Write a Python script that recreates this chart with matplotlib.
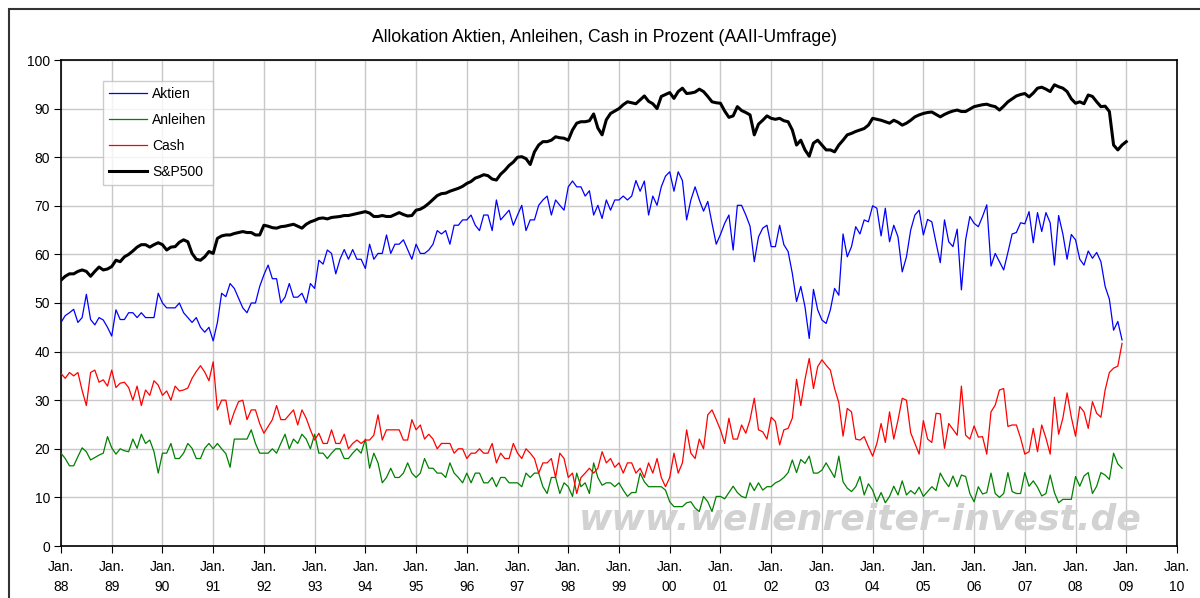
import numpy as np
import matplotlib.pyplot as plt
from matplotlib.patches import Rectangle

plt.rcParams['font.family'] = ['Liberation Sans', 'DejaVu Sans']

# Monatswerte Jan. 88 - Dez. 08 (AAII-Umfrage, Allokation in Prozent)
aktien = [
    46, 47.4, 48, 48.7, 46, 47, 51.8, 46.6, 45.5, 47, 46.5, 45,            # 1988
    43.2, 48.6, 46.6, 46.6, 48, 48, 47, 48, 47, 47, 47, 52,                # 1989
    50, 49, 49, 49, 50, 48, 47, 46, 47, 45, 44, 45,                        # 1990
    42.2, 46, 52, 51.3, 54, 53, 51, 49, 48, 50, 50, 53.4,                  # 1991
    55.8, 57.8, 55, 55, 50, 51.2, 54, 51.2, 51.2, 52, 50, 54,              # 1992
    53, 58.8, 58, 60.9, 60.2, 56, 59, 61, 59, 61, 59, 59,                  # 1993
    57.1, 62.1, 59, 60.2, 60.2, 64, 60.2, 62.1, 62.1, 63, 61, 59,          # 1994
    62.1, 60.2, 60.2, 60.9, 62.1, 64.9, 64.2, 64.9, 62.1, 66, 66, 67.1,    # 1995
    67.1, 68.1, 66, 64.9, 68.1, 68.1, 64.9, 71.2, 67.1, 68.1, 69.1, 66,    # 1996
    68.1, 70.1, 64.9, 67.1, 67.1, 70.1, 71.2, 72, 68.1, 71.2, 70.1, 69.1,  # 1997
    73.9, 75.1, 73.9, 73.9, 72, 73.1, 68.1, 70.1, 67.4, 71.2, 69.1, 71.2,  # 1998
    71.2, 72, 71.2, 72, 75.2, 73, 75.1, 68.1, 72, 70.1, 73.9, 76.1,        # 1999
    77, 73, 77, 75.2, 67.1, 71.2, 73.9, 71.2, 68.9, 70.9, 66.4, 62.1,      # 2000
    64.1, 66.4, 68.1, 60.9, 70.1, 70.1, 68.1, 65.8, 58.5, 63.6, 65.4, 66,  # 2001
    61.6, 61.6, 66, 62, 60.6, 56.1, 50.3, 53.4, 49.2, 42.7, 52.8, 48.6,    # 2002
    46.5, 45.8, 48.6, 53, 51.6, 64.2, 59.5, 61.6, 65.7, 64.2, 67.1, 66.7,  # 2003
    70, 69.5, 63.8, 69.5, 62.6, 66, 63.6, 56.4, 59.5, 65, 68.1, 69.1,      # 2004
    64, 67.2, 66.7, 62.4, 58.3, 67.1, 62.6, 61.6, 65.2, 52.7, 63, 67.8,    # 2005
    66.4, 65.7, 67.8, 70.2, 57.6, 60.2, 58.5, 56.8, 60.4, 64.2, 64.5, 66.5,  # 2006
    66.3, 68.8, 62.4, 68.6, 64.7, 68.6, 66.5, 57.8, 68, 64.2, 59, 64.1,    # 2007
    63, 59, 57.8, 60.7, 59.2, 60.4, 58.5, 53.4, 50.8, 44.4, 46.2, 42.4,    # 2008
]

anleihen = [
    19.1, 18, 16.5, 16.5, 18.4, 20.2, 19.4, 17.7, 18.2, 18.7, 19.1, 22.5,  # 1988
    20.2, 18.9, 20, 19.6, 19.4, 22, 20.1, 23, 21.1, 21.8, 19.4, 15,        # 1989
    19.1, 19.1, 21.1, 18, 18, 19.1, 21.1, 20.1, 18, 18, 20.1, 21.1,        # 1990
    20, 21.1, 20, 19, 16.2, 22, 22, 22, 22, 23.9, 21.1, 19.1,              # 1991
    19.1, 19.1, 20, 19.1, 21.1, 23, 20, 22, 21.1, 23, 22, 20,              # 1992
    23, 19.1, 19.1, 18, 19.1, 20, 20, 18, 18, 19.1, 20, 19.1,              # 1993
    22, 16, 19.1, 17.1, 13, 14.1, 16, 14.1, 14.1, 15, 17.1, 15,            # 1994
    14.1, 15, 18, 16, 16, 15, 15, 14.1, 17.1, 15, 14.1, 13,                # 1995
    15, 13, 15, 15, 13, 13, 14.1, 12.2, 14.1, 14.1, 13, 13,                # 1996
    13, 12.2, 15, 14.1, 15, 15, 12.2, 10.8, 14.1, 14.1, 10.8, 13,          # 1997
    12.2, 10.2, 15, 12.2, 13, 10.8, 17.1, 14.1, 12.5, 13, 13, 12.2,        # 1998
    13, 11.5, 10.2, 11, 11, 15, 13.2, 12.2, 12.2, 12.2, 12.2, 11.5,        # 1999
    9.1, 8.1, 8.1, 8.1, 8.9, 9.1, 7.8, 7.1, 10.2, 9.1, 7.1, 10.2,          # 2000
    10.2, 9.7, 11, 12.3, 11, 10.2, 9.9, 13, 11.4, 13, 11.5, 12.2,          # 2001
    12.2, 13, 13.4, 14.1, 15.1, 17.7, 15.1, 17.8, 17, 18.5, 15, 15,        # 2002
    15.6, 17.1, 15.6, 14.1, 18.5, 13.2, 11.9, 11.2, 12.2, 14.3, 10.5, 12.8,  # 2003
    11.5, 9.1, 11, 8.9, 10.2, 12.3, 10.5, 13.4, 10.5, 11.4, 10.7, 12.1,    # 2004
    10.2, 11.2, 12.2, 11.4, 15, 13.4, 12.2, 14.4, 12.2, 14.6, 14.3, 10.8,  # 2005
    9.1, 12.2, 10.7, 11, 15, 10.8, 10, 10.8, 15.1, 11.2, 10.8, 10.8,       # 2006
    15.1, 12.3, 13.4, 12.1, 10.3, 10.8, 14.6, 11, 8.9, 9.6, 9.6, 9.6,      # 2007
    14.3, 12.3, 14.4, 15.1, 10.8, 12.3, 15.1, 14.6, 13.7, 19.1, 16.9, 16,  # 2008
]

cash = [
    35.5, 34.5, 35.7, 35, 35.7, 32, 28.9, 35.7, 36.2, 33.7, 34.2, 32.9,    # 1988
    36.2, 32.6, 33.5, 33.7, 32.6, 30, 32.9, 28.9, 32.1, 31, 34, 33.1,      # 1989
    31, 31.9, 30, 32.9, 31.9, 32.1, 32.5, 34.5, 35.9, 37.1, 35.8, 34,      # 1990
    37.9, 28, 30, 30, 25, 27.6, 29.7, 30, 26, 28, 28, 25.2,                # 1991
    23.2, 24.6, 26, 28.9, 26, 26, 27, 28, 24.9, 28, 26.3, 23.9,            # 1992
    21.8, 23.2, 21.1, 21.1, 23.9, 21.1, 21.1, 23, 20, 21.1, 21.8, 21.1,    # 1993
    21.8, 21.8, 22.8, 27, 21.8, 23.9, 23.9, 23.9, 23.9, 21.8, 21.8, 26,    # 1994
    23.9, 24.9, 22, 23, 22, 20, 21.1, 21.1, 21.1, 19.1, 20, 20,            # 1995
    18, 19.1, 19.1, 20, 19.1, 19.1, 21.1, 17.1, 19.1, 18, 18, 21.1,        # 1996
    19.1, 18, 20, 19.1, 18, 15, 17.1, 17.1, 18, 14.1, 19.1, 18,            # 1997
    14.1, 15, 10.8, 14.1, 15, 16, 15, 16, 19.4, 17.1, 18, 16.2,            # 1998
    17.1, 15, 17.1, 17.1, 15, 16, 14.1, 17.1, 15, 18, 14.1, 12.2,          # 1999
    14.1, 19.1, 15, 17.1, 23.9, 19.1, 18, 22, 20, 27, 28, 26,              # 2000
    23.9, 21.1, 26.3, 22, 22, 24.9, 23.2, 26, 30.4, 23.9, 23.5, 22,        # 2001
    26.5, 25.6, 20.8, 23.9, 24.2, 26.3, 34.3, 28.9, 34.3, 38.6, 32.4, 36.9,  # 2002
    38.3, 37.2, 36.2, 32.4, 29.5, 22.6, 28.3, 27.6, 22, 21.8, 22.5, 20.4,  # 2003
    18.5, 21.1, 25.2, 21.3, 27.6, 22, 25.9, 30.4, 30, 23.3, 21.1, 18.9,    # 2004
    25.8, 22, 21.3, 27.3, 27.2, 20.1, 25.2, 24, 22.8, 32.9, 22.8, 22,      # 2005
    24.7, 22.4, 22.5, 18.9, 27.6, 29, 32.1, 32.4, 24.6, 24.9, 24.9, 22.2,  # 2006
    18.9, 19.4, 24.2, 19.4, 24.9, 22.2, 18.9, 30.6, 23, 26.3, 31.5, 26.5,  # 2007
    22.6, 28.7, 27.6, 24.2, 29.7, 27.3, 26.5, 32.1, 35.7, 36.6, 37, 41.7,  # 2008
]

# S&P500 (skaliert), Monatswerte Jan. 88 - Jan. 09
spx = [
    54.7, 55.5, 56, 56, 56.5, 56.8, 56.5, 55.5, 56.5, 57.4, 56.8, 57,      # 1988
    57.5, 58.8, 58.5, 59.5, 60, 60.7, 61.5, 62, 62, 61.5, 62, 62.4,        # 1989
    62, 60.9, 61.5, 61.6, 62.5, 63, 62.6, 60.2, 59, 58.8, 59.5, 60.6,      # 1990
    60.2, 63.3, 63.8, 64, 64, 64.3, 64.5, 64.7, 64.5, 64.5, 64, 64,        # 1991
    66, 65.8, 65.5, 65.4, 65.7, 65.8, 66, 66.2, 65.8, 65.4, 66.2, 66.7,    # 1992
    67, 67.4, 67.5, 67.3, 67.6, 67.7, 67.8, 68, 68, 68.2, 68.4, 68.6,      # 1993
    68.8, 68.5, 67.8, 67.8, 68, 67.8, 67.8, 68.2, 68.6, 68.2, 67.9, 68,    # 1994
    69.1, 69.3, 69.8, 70.5, 71.3, 72.1, 72.5, 72.6, 73, 73.3, 73.6, 74,    # 1995
    74.6, 75, 75.7, 76, 76.4, 76.2, 75.5, 75.3, 76.5, 77.3, 78.3, 79,      # 1996
    80, 80.1, 79.7, 78.5, 81.1, 82.5, 83.2, 83.2, 83.5, 84.2, 84, 83.9,    # 1997
    83.5, 85.6, 87, 87.3, 87.3, 87.5, 88.9, 86, 84.6, 87.7, 89, 89.5,      # 1998
    90, 90.8, 91.4, 91.2, 91, 91.8, 92.6, 91.5, 91, 90, 92.5, 92.9,        # 1999
    93.3, 92.1, 93.5, 94.2, 93.1, 93.2, 93.4, 94, 93.5, 92.5, 91.4, 91.2,  # 2000
    91.1, 89.5, 88.2, 88.5, 90.4, 89.6, 89.2, 88.7, 84.6, 86.8, 87.6, 88.5,  # 2001
    88, 87.8, 88, 87.5, 87.3, 85.6, 82.5, 83.5, 81.5, 80.2, 82.9, 83.5,    # 2002
    82.5, 81.5, 81.5, 81.1, 82.5, 83.5, 84.6, 84.9, 85.3, 85.6, 85.9, 86.6,  # 2003
    88, 87.8, 87.6, 87.3, 87, 87.6, 87.2, 86.6, 87, 87.6, 88.3, 88.7,      # 2004
    89, 89.2, 89.3, 88.8, 88.3, 88.8, 89.2, 89.5, 89.7, 89.4, 89.4, 89.9,  # 2005
    90.4, 90.6, 90.8, 90.9, 90.6, 90.4, 89.7, 90.5, 91.4, 92, 92.6, 92.9,  # 2006
    93.1, 92.4, 93.2, 94.2, 94.4, 94, 93.5, 94.9, 94.5, 94.2, 93.5, 92,    # 2007
    91.1, 91.4, 91, 92.8, 92.5, 91.4, 90.4, 90.5, 89.4, 82.5, 81.5, 82.5,  # 2008
    83.2,                                                                  # 2009
]

years = list(range(1988, 2011))
xtick_labels = ['Jan.\n%02d' % (y % 100) for y in years]

x_m = 1988 + np.arange(len(aktien)) / 12
x_spx = 1988 + np.arange(len(spx)) / 12

fig = plt.figure(figsize=(12, 5.98), dpi=100)
ax = fig.add_axes([61 / 1200, 52 / 598, 1116 / 1200, 486 / 598])

ax.plot(x_m, aktien, color='#0000ff', lw=0.9, label='Aktien', zorder=3)
ax.plot(x_m, anleihen, color='#008000', lw=0.9, label='Anleihen', zorder=3)
ax.plot(x_m, cash, color='#ff0000', lw=0.9, label='Cash', zorder=3)
ax.plot(x_spx, spx, color='black', lw=2.2, label='S&P500', zorder=4)

ax.set_xlim(1988, 2010)
ax.set_ylim(0, 100)
ax.set_xticks(years)
ax.set_xticklabels(xtick_labels, linespacing=1.6)
ax.set_yticks(range(0, 101, 10))
ax.set_axisbelow(True)
ax.grid(color='#c8c8c8', lw=1.0)
ax.tick_params(direction='out', length=5, labelsize=10, pad=3, color='black')
ax.tick_params(axis='x', pad=5)
for s in ax.spines.values():
    s.set_color('black')
    s.set_linewidth(1.2)

# Wasserzeichen
ax.text(2003.75, 5.4, 'www.wellenreiter-invest.de', fontsize=26, fontweight='bold',
        fontstyle='oblique', family='DejaVu Sans', color='#d2d2d2',
        ha='center', va='center', zorder=2)

leg = ax.legend(loc='upper left', bbox_to_anchor=(0.0376, 0.957), fontsize=10,
                frameon=True, fancybox=False, edgecolor='#c0c0c0',
                handlelength=2.7, handletextpad=0.4, labelspacing=0.85,
                borderpad=0.45, borderaxespad=0)
leg.get_frame().set_linewidth(1.0)

fig.text(604 / 1200, 1 - 37 / 598,
         'Allokation Aktien, Anleihen, Cash in Prozent (AAII-Umfrage)',
         ha='center', va='center', fontsize=12.7)

# Rahmen um das Diagramm
fig.add_artist(Rectangle((9 / 1200, -0.5), 2, 1.5 - 9 / 598, transform=fig.transFigure,
                         fill=False, ec='#333333', lw=1.5))

fig.savefig('out.png', dpi=100)
